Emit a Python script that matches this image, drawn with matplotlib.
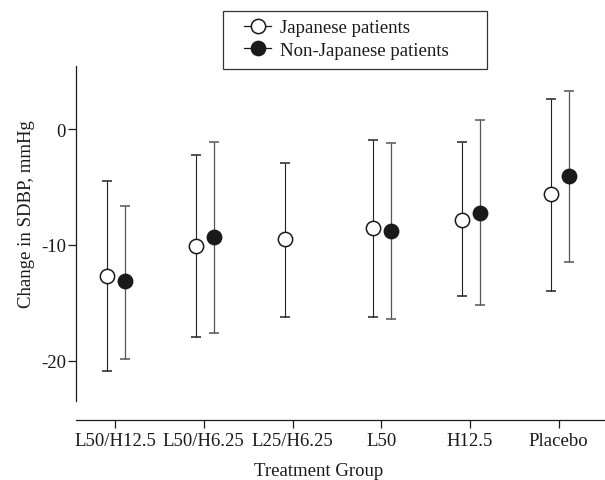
import matplotlib
matplotlib.use("Agg")
import matplotlib.pyplot as plt
from matplotlib.patches import Rectangle
import numpy as np

plt.rcParams['font.family'] = ['Liberation Serif', 'DejaVu Serif']

# data (mean change and 95% CI limits)
groups = ['L50/H12.5', 'L50/H6.25', 'L25/H6.25', 'L50', 'H12.5', 'Placebo']

jp_mean = [-12.7, -10.1, -9.5, -8.5, -7.8, -5.6]
jp_low = [-20.9, -18.0, -16.2, -16.2, -14.4, -14.0]
jp_high = [-4.5, -2.2, -2.9, -0.9, -1.1, 2.6]

# no non-Japanese data for L25/H6.25
nj_idx = [0, 1, 3, 4, 5]
nj_mean = [-13.1, -9.3, -8.8, -7.2, -4.0]
nj_low = [-19.9, -17.6, -16.4, -15.2, -11.5]
nj_high = [-6.6, -1.1, -1.2, 0.8, 3.3]

fig = plt.figure(figsize=(6.05, 4.81), dpi=100)
ax = fig.add_axes([76 / 605, 1 - 401.7 / 481, 528 / 605, 335 / 481])

x = np.arange(len(groups))
jm = np.array(jp_mean)
ax.errorbar(x - 0.09, jm, yerr=[jm - np.array(jp_low), np.array(jp_high) - jm],
            fmt='o', color='#1a1a1a', ecolor='#222222', elinewidth=0.8,
            capsize=3.8, capthick=0.8, markersize=10.3, markerfacecolor='white',
            markeredgecolor='#1a1a1a', markeredgewidth=1.1, zorder=3)

nm = np.array(nj_mean)
ax.errorbar(np.array(nj_idx) + 0.113, nm, yerr=[nm - np.array(nj_low), np.array(nj_high) - nm],
            fmt='o', color='#1a1a1a', ecolor='#555555', elinewidth=0.9,
            capsize=3.8, capthick=0.9, markersize=10.3, markerfacecolor='#1a1a1a',
            markeredgecolor='#1a1a1a', markeredgewidth=1.1, zorder=3)

ax.set_xlim(-0.44, 5.51)
ax.set_ylim(-23.48, 5.52)
ax.set_yticks([0, -10, -20])
ax.set_yticklabels(['0', '-10', '-20'])
ax.set_xticks(x)
ax.set_xticklabels(groups)

for s in ['top', 'right']:
    ax.spines[s].set_visible(False)
ax.spines['bottom'].set_position(('outward', 13.7))
for s in ['left', 'bottom']:
    ax.spines[s].set_linewidth(0.9)
    ax.spines[s].set_color('#1a1a1a')

ax.tick_params(axis='both', direction='out', length=5.8, width=0.9, color='#1a1a1a',
               labelsize=13.5, labelcolor='#1a1a1a')
ax.tick_params(axis='y', pad=1.5)
ax.tick_params(axis='x', pad=3)

ax.set_ylabel('Change in SDBP, mmHg', fontsize=13.5, color='#1a1a1a')
ax.yaxis.set_label_coords(-0.078, 0.56)
ax.set_xlabel('Treatment Group', fontsize=13.5, color='#1a1a1a')
ax.xaxis.set_label_coords(0.459, -0.183)

# legend (frame drawn separately to match the wide box)
jp_h = plt.Line2D([], [], color='#1a1a1a', lw=0.9, marker='o', markersize=10.3,
                  markerfacecolor='white', markeredgecolor='#1a1a1a', markeredgewidth=1.1)
nj_h = plt.Line2D([], [], color='#1a1a1a', lw=0.9, marker='o', markersize=10.3,
                  markerfacecolor='#1a1a1a', markeredgecolor='#1a1a1a')
fig.legend([jp_h, nj_h], ['Japanese patients', 'Non-Japanese patients'],
           loc='upper left', bbox_to_anchor=(244 / 605, 1 - 20 / 481), borderaxespad=0,
           borderpad=0, frameon=False, fontsize=13.5, handlelength=1.44,
           handletextpad=0.48, labelspacing=0.3, labelcolor='#1a1a1a')
fig.patches.append(Rectangle((223 / 605, 1 - 70 / 481), 264 / 605, 58 / 481,
                             transform=fig.transFigure, fill=False,
                             edgecolor='#333333', linewidth=0.9))

fig.savefig('out.png', dpi=100)
